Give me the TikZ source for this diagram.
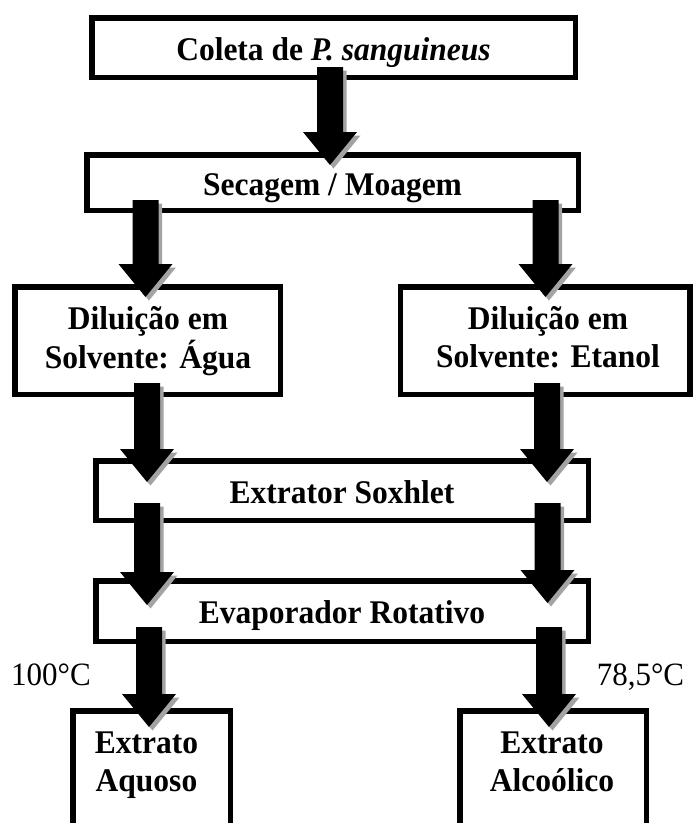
\documentclass[tikz,border=0pt]{standalone}
\usepackage{fontspec}
\usepackage{graphicx}
\setmainfont{Liberation Serif}
\usetikzlibrary{calc}

\definecolor{arrowshadow}{gray}{0.64}

% slightly tall lettering
\newcommand\tall[1]{\scalebox{1}[1.05]{#1}}
\newcommand\tallstack[1]{\scalebox{1}[1.05]{\begin{tabular}[t]{@{}c@{}}#1\end{tabular}}}

\tikzset{
  stagebox/.style={draw=black, line width=5.5pt, fill=white, inner sep=0pt,
    font=\fontsize{31.5pt}{36.8pt}\selectfont\bfseries,
    text height=27pt, text depth=2pt},
  stagetext/.style={inner sep=0pt, anchor=base,
    font=\fontsize{31.5pt}{36.8pt}\selectfont\bfseries},
  templabel/.style={inner sep=0pt, anchor=base,
    font=\fontsize{31pt}{36pt}\selectfont},
}

% Thick block arrow pointing down, from #1 (top of shaft) to #2 (tip),
% with a grey drop shadow offset to the lower right.
\newcommand\blockarrow[2]{%
  \fill[arrowshadow] let \p1=(#1), \p2=(#2) in
    (\x1-9.5pt, \y1-3.5pt) -- (\x1+16.5pt, \y1-3.5pt) --
    (\x1+16.5pt, \y2+29.5pt) -- (\x1+30.5pt, \y2+29.5pt) --
    (\x1+3.5pt, \y2-3.5pt) -- (\x1-23.5pt, \y2+29.5pt) --
    (\x1-9.5pt, \y2+29.5pt) -- cycle;
  \fill[black] let \p1=(#1), \p2=(#2) in
    (\x1-13pt, \y1) -- (\x1+13pt, \y1) --
    (\x1+13pt, \y2+33pt) -- (\x1+27pt, \y2+33pt) --
    (\x1, \y2) -- (\x1-27pt, \y2+33pt) --
    (\x1-13pt, \y2+33pt) -- cycle;
}

\begin{document}
\begin{tikzpicture}[x=1pt, y=-1pt]
  \useasboundingbox (0,0) rectangle (694,823);
  \clip (0,0) rectangle (694,823);

  % process stages
  \node[stagebox, minimum width=483.5pt, minimum height=59.5pt] (coleta)
    at (333.5,47.5) {\tall{Coleta de \textit{P. sanguineus}}};
  \node[stagebox, minimum width=491.5pt, minimum height=55.5pt] (secagem)
    at (332.5,182.5) {\tall{Secagem / Moagem}};

  \node[stagebox, minimum width=265.5pt, minimum height=107.5pt] (agua)
    at (147.5,340.5) {};
  \node[stagetext] (aguatext) at (148,329) {\tallstack{Diluição em\\Solvente: Água}};

  \node[stagebox, minimum width=289.5pt, minimum height=107.5pt] (etanol)
    at (545,340.5) {};
  \node[stagetext] (etanoltext) at (548,329) {\tallstack{Diluição em\\Solvente: Etanol}};

  \node[stagebox, minimum width=492.5pt, minimum height=59.5pt] (soxhlet)
    at (342,490.5) {\tall{Extrator Soxhlet}};
  \node[stagebox, minimum width=492.5pt, minimum height=60.5pt] (evaporador)
    at (342,611) {\tall{Evaporador Rotativo}};

  \node[stagebox, anchor=north, minimum width=157.5pt, minimum height=200pt] (aquoso)
    at (151.5,708) {};
  \node[stagetext] (aquosotext) at (146.5,753) {\tallstack{Extrato\\Aquoso}};

  \node[stagebox, anchor=north, minimum width=186.5pt, minimum height=200pt] (alcoolico)
    at (553,708) {};
  \node[stagetext] (alcoolicotext) at (552,753) {\tallstack{Extrato\\Alcoólico}};

  % temperatures
  \node[templabel] (tagua) at (51,685) {\tall{100°C}};
  \node[templabel] (tetanol) at (640.5,685.5) {\tall{78,5°C}};

  % arrow end points
  \coordinate (a1s) at (330,67);    \coordinate (a1e) at (330,165);
  \coordinate (a2s) at (145.5,200); \coordinate (a2e) at (145.5,297);
  \coordinate (a3s) at (545.5,200); \coordinate (a3e) at (545.5,297);
  \coordinate (a4s) at (147,383);   \coordinate (a4e) at (147,482);
  \coordinate (a5s) at (547,383);   \coordinate (a5e) at (547,482);
  \coordinate (a6s) at (147,503);   \coordinate (a6e) at (147,605);
  \coordinate (a7s) at (547.5,503); \coordinate (a7e) at (547.5,603);
  \coordinate (a8s) at (149,627);   \coordinate (a8e) at (149,727);
  \coordinate (a9s) at (549,627);   \coordinate (a9e) at (549,727);

  \blockarrow{a1s}{a1e}
  \blockarrow{a2s}{a2e}
  \blockarrow{a3s}{a3e}
  \blockarrow{a4s}{a4e}
  \blockarrow{a5s}{a5e}
  \blockarrow{a6s}{a6e}
  \blockarrow{a7s}{a7e}
  \blockarrow{a8s}{a8e}
  \blockarrow{a9s}{a9e}
\end{tikzpicture}
\end{document}
